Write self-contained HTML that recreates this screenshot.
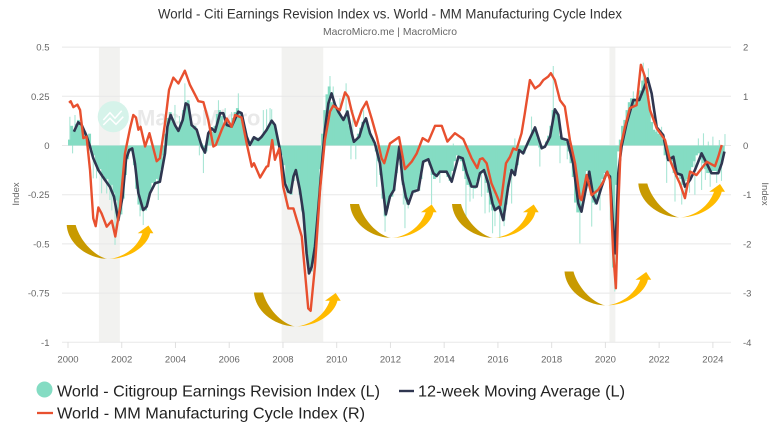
<!DOCTYPE html>
<html lang="en">
<head>
<meta charset="utf-8">
<title>World - Citi Earnings Revision Index vs. World - MM Manufacturing Cycle Index</title>
<style>
html,body{margin:0;padding:0;background:#fff;width:780px;height:439px;overflow:hidden}
svg{display:block;font-family:"Liberation Sans",sans-serif;filter:blur(0.35px)}
</style>
</head>
<body>
<svg id="chart" width="780" height="439" viewBox="0 0 780 439" xmlns="http://www.w3.org/2000/svg">
  <defs>
    <linearGradient id="arrowGrad" x1="0" y1="0" x2="1" y2="0">
      <stop offset="0" stop-color="#c89a00"/>
      <stop offset="0.42" stop-color="#c89a00"/>
      <stop offset="0.49" stop-color="#f5e6b5"/>
      <stop offset="0.56" stop-color="#ffbb00"/>
      <stop offset="1" stop-color="#ffbb00"/>
    </linearGradient>
    <path id="swoop" d="M0 0 L9 0 C13 15 27 31 41 34 C57 33 71 22 75.7 8.2 L71 8.2 L81.7 0.5 L86.7 8.2 L83.4 8.2 C81 20 64 34 41 34 C18 33 1 17 0 0 Z" fill="url(#arrowGrad)"/>
  </defs>
  <text x="390" y="18.5" text-anchor="middle" font-size="13.5" fill="#333" textLength="464" lengthAdjust="spacingAndGlyphs">World - Citi Earnings Revision Index vs. World - MM Manufacturing Cycle Index</text>
  <text x="390" y="35" text-anchor="middle" font-size="10.5" fill="#666" textLength="134" lengthAdjust="spacingAndGlyphs">MacroMicro.me | MacroMicro</text>
  <g id="bands"></g>
  <g id="grid"></g>
  <g>
    <circle cx="113.3" cy="116.7" r="15.6" fill="#d6f3ea"/>
    <polyline points="103.3,120 110,112.7 115,118.3 121.7,110.7" fill="none" stroke="#fff" stroke-width="1.5"/>
    <polyline points="103.3,125 110,118.3 116,124.3 123.3,116.7" fill="none" stroke="#fff" stroke-width="1.5"/>
    <text x="137" y="125.5" font-size="22" font-weight="bold" fill="#e9e9e9">MacroMicro</text>
  </g>
  <g id="spikes"></g>
  <g id="bars"></g>
  <path id="maLine" fill="none" stroke="#2f3650" stroke-width="2.6" stroke-linejoin="round"/>
  <path id="redLine" fill="none" stroke="#e8502f" stroke-width="2.4" stroke-linejoin="round"/>
  <g>
    <use href="#swoop" transform="translate(66.7,225)"/>
    <use href="#swoop" transform="translate(254,292.5)"/>
    <use href="#swoop" transform="translate(350,204)"/>
    <use href="#swoop" transform="translate(452,204)"/>
    <use href="#swoop" transform="translate(564.5,271.5)"/>
    <use href="#swoop" transform="translate(638.3,183.5)"/>
  </g>
  <g id="axes"></g>
  <text transform="translate(19,194) rotate(-90)" text-anchor="middle" font-size="9.5" fill="#666">Index</text>
  <text transform="translate(762,194) rotate(90)" text-anchor="middle" font-size="9.5" fill="#666">Index</text>
  <g>
    <g>
      <circle cx="44.5" cy="389.5" r="8" fill="#84dcc3"/>
      <text x="57" y="396.5" font-size="16" fill="#222" textLength="323" lengthAdjust="spacingAndGlyphs">World - Citigroup Earnings Revision Index (L)</text>
    </g>
    <g>
      <line x1="399" x2="414" y1="391" y2="391" stroke="#2f3650" stroke-width="2.4"/>
      <text x="418" y="396.5" font-size="16" fill="#222" textLength="207" lengthAdjust="spacingAndGlyphs">12-week Moving Average (L)</text>
    </g>
    <g>
      <line x1="37" x2="53" y1="413" y2="413" stroke="#e8502f" stroke-width="2.3"/>
      <text x="57" y="418.5" font-size="16" fill="#222" textLength="308" lengthAdjust="spacingAndGlyphs">World - MM Manufacturing Cycle Index (R)</text>
    </g>
  </g>
</svg>
<script>
var xTickYears = [2000,2002,2004,2006,2008,2010,2012,2014,2016,2018,2020,2022,2024];
var leftTicks = [0.5,0.25,0,-0.25,-0.5,-0.75,-1];
var rightTicks = [2,1,0,-1,-2,-3,-4];
var recessionStarts = [2001.15,2007.95,2020.15];
var recessionEnds = [2001.93,2009.5,2020.37];

var revisionStartYear = 2000;
var revisionValues = [
0.03,0.10,0.08,0.11,0.13,0.10,0.09,0.07,0.05,0.06,-0.02,-0.05,
-0.10,-0.13,-0.12,-0.15,-0.18,-0.17,-0.21,-0.20,-0.24,-0.28,-0.37,-0.35,
-0.27,-0.15,-0.07,-0.03,-0.02,-0.10,-0.22,-0.30,-0.33,-0.31,-0.33,-0.27,
-0.24,-0.19,-0.20,-0.17,-0.19,-0.12,-0.05,0.06,0.14,0.17,0.12,0.10,
0.09,0.07,0.12,0.18,0.22,0.23,0.12,0.09,0.10,0.06,0.03,0.01,
-0.02,-0.03,0.05,0.09,0.07,0.10,0.16,0.18,0.15,0.11,0.12,0.10,
0.11,0.14,0.17,0.19,0.17,0.12,0.07,0.04,0.02,0.00,0.04,0.03,
0.04,0.03,0.05,0.07,0.08,0.10,0.13,0.11,0.08,0.02,-0.02,-0.05,
-0.10,-0.19,-0.24,-0.25,-0.18,-0.13,-0.18,-0.25,-0.33,-0.43,-0.55,-0.65,
-0.64,-0.60,-0.52,-0.32,-0.12,0.06,0.18,0.26,0.30,0.22,0.20,0.19,
0.18,0.15,0.14,0.15,0.18,0.10,0.06,0.02,0.03,0.06,0.09,0.12,
0.13,0.10,0.07,0.03,0.01,-0.03,-0.08,-0.15,-0.27,-0.36,-0.32,-0.27,
-0.26,-0.23,-0.14,-0.02,-0.10,-0.20,-0.27,-0.30,-0.26,-0.24,-0.24,-0.22,
-0.23,-0.17,-0.08,-0.08,-0.07,-0.10,-0.15,-0.17,-0.15,-0.14,-0.13,-0.14,
-0.14,-0.16,-0.18,-0.13,-0.08,-0.05,-0.07,-0.08,-0.13,-0.17,-0.20,-0.21,
-0.21,-0.22,-0.18,-0.14,-0.12,-0.14,-0.19,-0.24,-0.30,-0.33,-0.33,-0.32,
-0.31,-0.34,-0.38,-0.30,-0.21,-0.13,-0.13,-0.15,-0.10,-0.03,-0.03,-0.04,
-0.01,0.02,0.04,0.08,0.09,0.04,-0.01,-0.01,0.00,0.02,0.05,0.10,
0.18,0.17,0.16,0.05,0.04,0.03,0.02,-0.03,-0.09,-0.16,-0.29,-0.34,
-0.34,-0.28,-0.20,-0.13,-0.15,-0.25,-0.29,-0.30,-0.24,-0.20,-0.17,-0.14,
-0.14,-0.16,-0.38,-0.62,-0.20,-0.03,0.03,0.10,0.13,0.18,0.22,0.24,
0.24,0.23,0.25,0.28,0.33,0.34,0.28,0.20,0.12,0.08,0.07,0.06,
0.05,0.03,-0.05,-0.07,-0.06,-0.08,-0.14,-0.16,-0.15,-0.17,-0.20,-0.18,
-0.17,-0.14,-0.11,-0.08,-0.05,-0.04,-0.07,-0.09,-0.12,-0.14,-0.14,-0.13,
-0.13,-0.13,-0.14,-0.09,-0.05
];

var spikeYears = [2000.07,2000.17,2000.26,2000.94,2001.06,2001.25,2001.44,2001.56,2001.63,2001.75,2002.68,2002.80,2003.05,2003.36,2003.98,2004.15,2004.35,2004.89,2005.04,2005.60,2005.85,2006.09,2006.34,2007.27,2007.39,2007.52,2007.58,2008.14,2008.70,2009.75,2009.87,2010.12,2010.35,2010.53,2010.60,2010.71,2011.00,2011.49,2011.80,2012.48,2012.54,2012.66,2013.53,2013.84,2014.34,2014.81,2014.96,2015.08,2015.39,2015.52,2015.68,2015.80,2015.89,2016.07,2016.23,2016.30,2016.51,2016.63,2017.25,2017.56,2018.06,2018.31,2018.58,2018.87,2019.05,2019.49,2019.80,2020.35,2020.91,2021.04,2021.41,2021.60,2021.91,2022.09,2022.28,2022.59,2022.84,2022.96,2023.13,2023.33,2023.46,2023.58,2023.65,2023.72,2023.83,2023.90,2024.00,2024.14,2024.24,2024.32,2024.45];
var spikeValues = [0.146,-0.04,0.155,-0.167,-0.167,-0.243,-0.244,-0.277,-0.33,-0.505,-0.36,-0.404,-0.25,-0.277,0.206,0.15,0.316,-0.05,-0.14,0.23,0.19,0.17,0.265,0.18,0.184,0.19,0.184,-0.31,-0.336,0.353,0.30,0.24,0.316,-0.07,0.18,-0.07,0.18,-0.21,-0.438,-0.30,-0.42,-0.32,-0.30,-0.19,0.01,-0.37,-0.285,-0.27,-0.26,-0.345,-0.34,-0.446,-0.41,-0.47,-0.41,-0.33,-0.295,0.036,0.147,-0.107,0.404,-0.09,-0.07,-0.21,-0.498,-0.412,-0.33,-0.742,0.18,0.275,0.421,0.392,0.13,0.095,-0.19,-0.285,-0.30,-0.27,-0.24,-0.25,0.036,-0.226,0.062,-0.175,0.02,-0.21,0.045,-0.19,0.028,-0.18,0.058];

var maYears = [2000.22,2000.38,2000.51,2000.69,2000.82,2000.94,2001.13,2001.38,2001.56,2001.71,2001.87,2002.03,2002.16,2002.28,2002.39,2002.49,2002.62,2002.80,2002.93,2003.05,2003.24,2003.42,2003.61,2003.70,2003.82,2003.98,2004.11,2004.27,2004.38,2004.48,2004.60,2004.79,2004.98,2005.10,2005.22,2005.35,2005.47,2005.66,2005.78,2005.91,2006.09,2006.34,2006.46,2006.65,2006.77,2006.92,2007.08,2007.21,2007.39,2007.58,2007.70,2007.89,2007.95,2008.07,2008.20,2008.29,2008.39,2008.48,2008.63,2008.76,2008.88,2008.97,2009.07,2009.19,2009.32,2009.44,2009.56,2009.69,2009.81,2009.94,2010.06,2010.25,2010.40,2010.56,2010.64,2010.84,2010.99,2011.09,2011.24,2011.42,2011.61,2011.74,2011.83,2011.98,2012.13,2012.33,2012.45,2012.57,2012.67,2012.83,2013.04,2013.22,2013.41,2013.60,2013.72,2013.84,2014.09,2014.28,2014.53,2014.69,2014.84,2015.02,2015.21,2015.33,2015.48,2015.64,2015.80,2015.89,2016.05,2016.20,2016.38,2016.51,2016.63,2016.79,2016.94,2017.13,2017.38,2017.63,2017.75,2017.94,2018.12,2018.25,2018.37,2018.58,2018.80,2018.99,2019.11,2019.24,2019.40,2019.55,2019.67,2019.86,2020.04,2020.17,2020.27,2020.37,2020.48,2020.60,2020.79,2021.04,2021.26,2021.41,2021.57,2021.72,2021.91,2022.15,2022.34,2022.53,2022.65,2022.84,2022.96,2023.15,2023.33,2023.58,2023.77,2023.95,2024.20,2024.33,2024.43];
var maValues = [0.07,0.118,0.104,0.048,-0.006,-0.065,-0.125,-0.176,-0.21,-0.26,-0.38,-0.26,-0.07,-0.023,-0.015,-0.09,-0.243,-0.328,-0.31,-0.243,-0.192,-0.184,-0.04,0.096,0.155,0.104,0.074,0.13,0.214,0.206,0.104,0.08,-0.006,-0.036,0.062,0.087,0.07,0.164,0.164,0.104,0.096,0.172,0.164,0.045,0.003,0.042,0.028,0.045,0.079,0.126,0.104,-0.023,-0.074,-0.192,-0.235,-0.24,-0.158,-0.125,-0.226,-0.345,-0.548,-0.65,-0.616,-0.514,-0.311,-0.108,0.079,0.214,0.265,0.206,0.172,0.13,0.172,0.062,0.019,0.045,0.113,0.138,0.062,0.011,-0.091,-0.243,-0.35,-0.26,-0.226,-0.006,-0.175,-0.26,-0.297,-0.235,-0.226,-0.082,-0.07,-0.141,-0.155,-0.133,-0.133,-0.184,-0.057,-0.065,-0.141,-0.209,-0.209,-0.141,-0.125,-0.192,-0.295,-0.328,-0.311,-0.379,-0.209,-0.125,-0.15,-0.023,-0.04,0.019,0.092,-0.014,-0.006,0.045,0.184,0.155,0.036,0.028,-0.091,-0.294,-0.336,-0.243,-0.133,-0.26,-0.294,-0.209,-0.141,-0.158,-0.379,-0.548,-0.141,-0.006,0.113,0.231,0.231,0.282,0.341,0.265,0.092,0.053,-0.074,-0.057,-0.141,-0.15,-0.209,-0.175,-0.125,-0.04,-0.091,-0.141,-0.141,-0.091,-0.031];

var cycleYears = [2000.04,2000.10,2000.20,2000.35,2000.45,2000.57,2000.69,2000.82,2000.94,2001.03,2001.13,2001.25,2001.44,2001.63,2001.76,2001.94,2002.12,2002.31,2002.43,2002.53,2002.62,2002.70,2002.87,2003.03,2003.30,2003.42,2003.61,2003.76,2003.92,2004.11,2004.35,2004.54,2004.73,2004.85,2005.04,2005.22,2005.41,2005.50,2005.72,2005.91,2006.09,2006.22,2006.46,2006.65,2006.84,2006.92,2007.15,2007.39,2007.45,2007.60,2007.70,2007.86,2008.01,2008.20,2008.39,2008.70,2008.94,2009.03,2009.19,2009.38,2009.56,2009.75,2009.87,2010.12,2010.31,2010.43,2010.56,2010.72,2010.93,2011.11,2011.30,2011.49,2011.67,2011.77,2011.98,2012.32,2012.54,2012.79,2012.98,2013.20,2013.41,2013.66,2013.91,2014.12,2014.40,2014.71,2015.02,2015.23,2015.33,2015.43,2015.58,2015.76,2015.95,2016.10,2016.30,2016.45,2016.57,2016.69,2016.88,2017.00,2017.19,2017.38,2017.56,2017.69,2017.87,2017.97,2018.12,2018.31,2018.49,2018.68,2018.87,2019.05,2019.11,2019.30,2019.49,2019.73,2019.92,2020.07,2020.17,2020.29,2020.39,2020.48,2020.57,2020.73,2020.91,2021.16,2021.32,2021.47,2021.66,2021.91,2022.22,2022.40,2022.65,2022.77,2022.96,2023.15,2023.39,2023.77,2024.08,2024.20,2024.33];
var cycleValues = [0.87,0.90,0.78,0.83,0.72,0.15,0.18,-0.50,-1.48,-1.64,-1.26,-1.38,-1.65,-1.53,-1.85,-1.24,-0.16,0.35,0.62,0.57,0.32,0.38,-0.02,0.25,-0.32,-0.26,0.45,1.13,1.38,1.26,1.52,1.23,1.03,0.90,0.88,0.52,-0.02,0.01,0.32,0.55,0.38,0.62,0.57,0.04,-0.43,-0.36,-0.65,-0.43,-0.42,0.11,-0.29,-0.06,-0.84,-1.28,-1.28,-1.85,-3.31,-3.36,-2.46,-0.90,0.11,0.69,0.81,0.72,1.08,0.99,0.69,0.40,0.72,0.89,0.55,0.18,-0.26,-0.36,0.04,0.17,-0.48,-0.33,-0.16,0.15,0.08,0.40,0.40,0.08,0.25,0.13,-0.26,-0.46,-0.28,-0.26,-0.36,-0.77,-1.01,-1.21,-0.36,-0.23,-0.06,-0.09,0.25,0.65,1.33,1.16,1.23,1.33,1.40,1.47,1.33,0.92,0.79,0.11,-0.36,-1.07,-1.11,-0.60,-1.01,-0.90,-0.74,-0.53,-0.70,-2.19,-2.90,-1.24,-0.02,0.38,0.76,0.82,1.64,1.40,0.72,0.35,0.11,-0.29,-0.63,-0.77,-1.07,-0.53,-0.60,-0.33,-0.42,-0.23,0.01];

var SVGNS = 'http://www.w3.org/2000/svg';
function xScale(year){ return 68 + (year - 2000) * 26.87; }
function yLeft(v){ return 145.5 - v * 196.8; }
function yRight(v){ return 145.5 - v * 49.2; }
function make(tag, parentId){
  var el = document.createElementNS(SVGNS, tag);
  document.getElementById(parentId).appendChild(el);
  return el;
}
function pathFrom(xs, ys, yFn){
  var d = '';
  for (var i = 0; i < xs.length; i++){
    d += (i ? 'L' : 'M') + xScale(xs[i]).toFixed(2) + ' ' + yFn(ys[i]).toFixed(2);
  }
  return d;
}

recessionStarts.forEach(function(start, i){
  var r = make('rect', 'bands');
  
  
  r.setAttribute('x', xScale(start));
  r.setAttribute('y', 47);
  r.setAttribute('width', xScale(recessionEnds[i]) - xScale(start));
  r.setAttribute('height', 295);
  r.setAttribute('fill', '#f2f2f0');
});

leftTicks.forEach(function(t, i){
  var y = yLeft(t);
  var g = make('line', 'grid');
  
  
  g.setAttribute('x1', 62);
  g.setAttribute('x2', 731);
  g.setAttribute('y1', y);
  g.setAttribute('y2', y);
  g.setAttribute('stroke', '#e8e8e8');
  g.setAttribute('stroke-width', 1);
  var l = make('text', 'axes');
  
  
  l.setAttribute('x', 49.5);
  l.setAttribute('y', y + 3.5);
  l.setAttribute('text-anchor', 'end');
  l.setAttribute('font-size', 9.5);
  l.setAttribute('fill', '#666');
  l.textContent = String(t);
  var r = make('text', 'axes');
  
  
  r.setAttribute('x', 743);
  r.setAttribute('y', yRight(rightTicks[i]) + 3.5);
  r.setAttribute('text-anchor', 'start');
  r.setAttribute('font-size', 9.5);
  r.setAttribute('fill', '#666');
  r.textContent = String(rightTicks[i]);
});

xTickYears.forEach(function(yr){
  var x = xScale(yr);
  var t = make('line', 'axes');
  
  
  t.setAttribute('x1', x);
  t.setAttribute('x2', x);
  t.setAttribute('y1', 342);
  t.setAttribute('y2', 348);
  t.setAttribute('stroke', '#e0e0e0');
  var l = make('text', 'axes');
  
  
  l.setAttribute('x', x);
  l.setAttribute('y', 362.5);
  l.setAttribute('text-anchor', 'middle');
  l.setAttribute('font-size', 9.5);
  l.setAttribute('fill', '#666');
  l.textContent = String(yr);
});

spikeYears.forEach(function(yr, i){
  var s = make('line', 'spikes');
  
  
  s.setAttribute('x1', xScale(yr));
  s.setAttribute('x2', xScale(yr));
  s.setAttribute('y1', yLeft(0));
  s.setAttribute('y2', yLeft(spikeValues[i]));
  s.setAttribute('stroke', '#a9e6d5');
  s.setAttribute('stroke-width', 1.1);
});

revisionValues.forEach(function(v, i){
  var yr = revisionStartYear + i / 12;
  var top = Math.min(yLeft(v), yLeft(0));
  var b = make('rect', 'bars');
  
  
  b.setAttribute('x', xScale(yr));
  b.setAttribute('y', top);
  b.setAttribute('width', 2.9);
  b.setAttribute('height', Math.abs(yLeft(v) - yLeft(0)));
  b.setAttribute('fill', '#84dcc3');
});

document.getElementById('maLine').setAttribute('d', pathFrom(maYears, maValues, yLeft));
document.getElementById('redLine').setAttribute('d', pathFrom(cycleYears, cycleValues, yRight));
</script>
</body>
</html>
